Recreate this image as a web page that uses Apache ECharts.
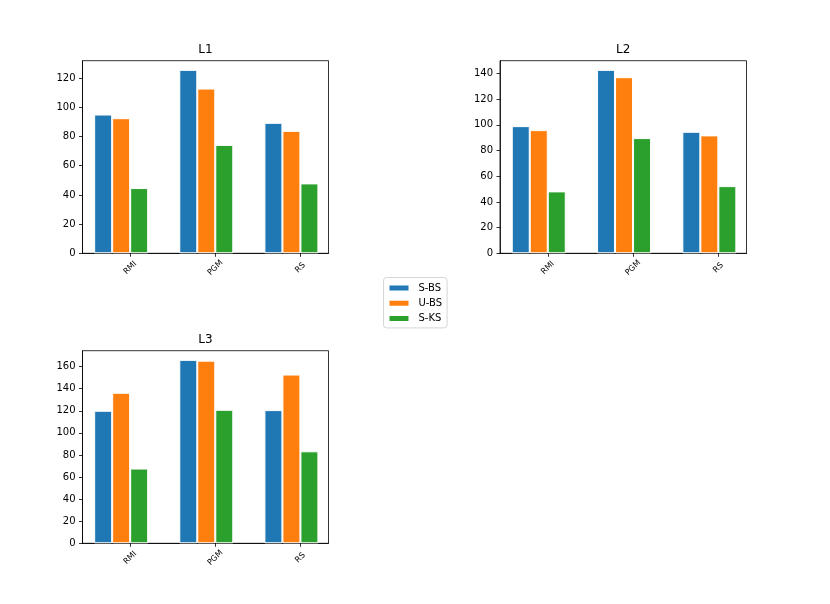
<!DOCTYPE html>
<html><head><meta charset="utf-8">
<script src="https://cdn.jsdelivr.net/npm/echarts@6/dist/echarts.min.js"></script>
<style>html,body{margin:0;padding:0;background:#fff}#c{width:830px;height:604px}</style>
</head><body><div id="c"></div>
<script>
const categories = ['RMI', 'PGM', 'RS'];
const seriesNames = ['S-BS', 'U-BS', 'S-KS'];
const panelTitles = ['L1', 'L2', 'L3'];

const L1_SBS = [95.1, 125.7, 89.4];
const L1_UBS = [92.6, 112.9, 83.9];
const L1_SKS = [44.7, 74.3, 47.9];

const L2_SBS = [99.0, 142.8, 94.6];
const L2_UBS = [95.9, 137.1, 91.8];
const L2_SKS = [48.2, 89.7, 52.3];

const L3_SBS = [120.0, 166.1, 120.6];
const L3_UBS = [136.3, 165.4, 152.8];
const L3_SKS = [67.7, 120.9, 83.3];

const L1_ticks = [0, 20, 40, 60, 80, 100, 120];
const L2_ticks = [0, 20, 40, 60, 80, 100, 120, 140];
const L3_ticks = [0, 20, 40, 60, 80, 100, 120, 140, 160];

const panels = [
  { title: panelTitles[0], values: [L1_SBS, L1_UBS, L1_SKS], ticks: L1_ticks },
  { title: panelTitles[1], values: [L2_SBS, L2_UBS, L2_SKS], ticks: L2_ticks },
  { title: panelTitles[2], values: [L3_SBS, L3_UBS, L3_SKS], ticks: L3_ticks }
];

const colors = ['#1f77b4', '#ff7f0e', '#2ca02c'];
const FONT = '"DejaVu Sans", sans-serif';
const gridBoxes = [
  { left: 82.5, top: 60.7, width: 246, height: 192.6 },
  { left: 500, top: 60.7, width: 246.5, height: 192.6 },
  { left: 82.5, top: 350.7, width: 246, height: 192.6 }
];
const catIdx = categories.map((c, i) => i);

const grid = [], xAxis = [], yAxis = [], series = [], graphic = [];
panels.forEach((p, k) => {
  const g = gridBoxes[k];
  grid.push(Object.assign({ show: true, borderColor: '#000', borderWidth: 0.8, backgroundColor: 'transparent', outerBoundsMode: 'none' }, g));
  let mx = 0;
  p.values.forEach(v => v.forEach(x => { if (x > mx) mx = x; }));
  xAxis.push({
    gridIndex: k, type: 'value', min: -0.56, max: 2.33,
    splitLine: { show: false },
    axisLine: { show: true, onZero: false, lineStyle: { color: '#000', width: 0.8 } },
    axisTick: { show: true, customValues: catIdx, length: 3.5, lineStyle: { color: '#000', width: 0.8 } },
    axisLabel: {
      customValues: catIdx, formatter: v => categories[Math.round(v)],
      rotate: 45, align: 'center', verticalAlign: 'middle', margin: 14.5,
      fontSize: 8, fontFamily: FONT, color: '#000'
    }
  });
  yAxis.push({
    gridIndex: k, type: 'value', min: 0, max: mx * 1.05,
    splitLine: { show: false },
    axisLine: { show: true, onZero: false, lineStyle: { color: '#000', width: 0.8 } },
    axisTick: { show: true, customValues: p.ticks, length: 3.5, lineStyle: { color: '#000', width: 0.8 } },
    axisLabel: { customValues: p.ticks, fontSize: 10, fontFamily: FONT, color: '#000', margin: 7 }
  });
  p.values.forEach((vals, s) => {
    series.push({
      type: 'bar', name: seriesNames[s], xAxisIndex: k, yAxisIndex: k,
      barWidth: 18, barGap: '0%',
      itemStyle: { color: colors[s], borderColor: '#fff', borderWidth: 1 },
      data: categories.map((c, i) => [i, vals[i]])
    });
  });
  // empty slot so the tick sits between the 2nd and 3rd bar as in the original
  series.push({ type: 'bar', name: '_pad' + k, xAxisIndex: k, yAxisIndex: k, barWidth: 18, barGap: '0%', data: [], silent: true });
  graphic.push({
    type: 'text', x: g.left + g.width / 2, y: g.top - 10.5,
    style: { text: p.title, align: 'center', verticalAlign: 'middle', font: '12px ' + FONT, fill: '#000' }
  });
});

const chart = echarts.init(document.getElementById('c'), null, { renderer: 'canvas' });
chart.setOption({
  animation: false,
  backgroundColor: '#fff',
  color: colors,
  grid, xAxis, yAxis, series, graphic,
  legend: {
    data: seriesNames, orient: 'vertical', left: 383.5, top: 277.5,
    icon: 'rect', itemWidth: 21, itemHeight: 7, itemGap: 4.2,
    padding: [5, 5, 4, 4],
    borderColor: '#cccccc', borderWidth: 0.8, borderRadius: 3, backgroundColor: '#fff',
    textStyle: { fontSize: 10, fontFamily: FONT, color: '#000', padding: [0, 0, 0, 4], lineHeight: 11 }
  }
});
</script></body></html>
